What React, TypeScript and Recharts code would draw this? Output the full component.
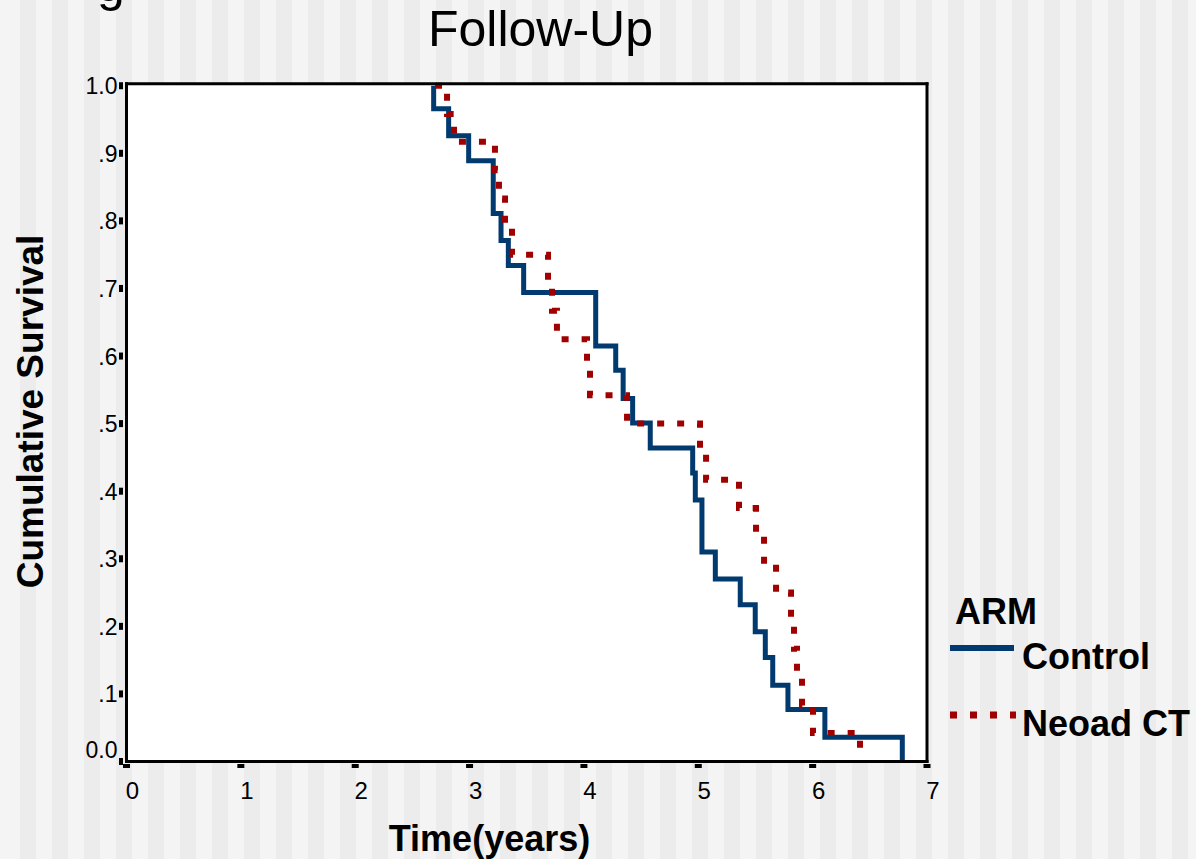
import { LineChart, Line, XAxis, YAxis, Legend, CartesianGrid } from "recharts";

// Kaplan-Meier steps (time in years, cumulative survival)
const controlTimes = [2.686, 2.686, 2.817, 2.992, 3.207, 3.275, 3.339, 3.473, 4.103, 4.278, 4.343, 4.426, 4.58, 4.951, 4.974, 5.032, 5.149, 5.367, 5.498, 5.586, 5.651, 5.784, 6.107, 6.784];
const controlSurvival = [1.0, 0.966, 0.926, 0.889, 0.811, 0.771, 0.734, 0.694, 0.615, 0.579, 0.537, 0.501, 0.464, 0.427, 0.387, 0.31, 0.27, 0.232, 0.192, 0.154, 0.113, 0.077, 0.036, 0];

const neoadTimes = [2.698, 2.803, 2.864, 3.222, 3.257, 3.31, 3.371, 3.686, 3.721, 3.764, 4.027, 4.053, 4.377, 5.015, 5.068, 5.356, 5.505, 5.575, 5.68, 5.811, 5.837, 5.863, 5.907, 6.003, 6.414];
const neoadSurvival = [1.0, 0.958, 0.917, 0.875, 0.833, 0.792, 0.75, 0.708, 0.667, 0.625, 0.583, 0.542, 0.5, 0.458, 0.417, 0.375, 0.333, 0.292, 0.25, 0.208, 0.167, 0.125, 0.083, 0.042, 0];

const xTicks = [0, 1, 2, 3, 4, 5, 6, 7];
const yTicks = [0, 0.1, 0.2, 0.3, 0.4, 0.5, 0.6, 0.7, 0.8, 0.9, 1.0];
const yTickLabels = ["0.0", ".1", ".2", ".3", ".4", ".5", ".6", ".7", ".8", ".9", "1.0"];

const controlData = controlTimes.map((t, i) => ({ t, s: controlSurvival[i] }));
const neoadData = neoadTimes.map((t, i) => ({ t, s: neoadSurvival[i] }));

const FONT = "'Liberation Sans', Arial, Helvetica, sans-serif";
const BLUE = "#003a6e";
const RED = "#a00000";
const PLOT_LEFT = 126.5;
const PLOT_BOTTOM = 761.5;

const seriesStyle: Record<string, { dash?: string; width: number }> = {
  Control: { width: 6 },
  "Neoad CT": { dash: "7 13", width: 7 },
};

const frameLine = { stroke: "#000", strokeWidth: 3, strokeLinecap: "square" as const };

function YTick(props: any) {
  const { y, payload } = props;
  const i = yTicks.indexOf(payload.value);
  const label = i >= 0 ? yTickLabels[i] : String(payload.value);
  const baseline = payload.value === 0 ? y - 3.5 : y + 8.5;
  return (
    <g>
      <rect x={PLOT_LEFT - 7.5} y={y - 3.5} width={4} height={7} fill="#000" />
      <text x={PLOT_LEFT - 9} y={baseline} textAnchor="end" fontSize={23} fontFamily={FONT} fill="#000">
        {label}
      </text>
    </g>
  );
}

function XTick(props: any) {
  const { x, payload } = props;
  return (
    <g>
      <rect x={x - 3.5} y={PLOT_BOTTOM + 2.5} width={7} height={4} fill="#000" />
      <text x={x + 6} y={799} textAnchor="middle" fontSize={24} fontFamily={FONT} fill="#000">
        {payload.value}
      </text>
    </g>
  );
}

function ArmLegend(props: any) {
  const payload = props.payload || [];
  return (
    <svg width={266} height={170} style={{ display: "block" }}>
      <text x={25} y={44} fontSize={36} fontWeight="bold" fontFamily={FONT} fill="#000">
        ARM
      </text>
      {payload.map((entry: any, i: number) => {
        const st = seriesStyle[entry.value] || { width: 5 };
        const lineY = i === 0 ? 68 : 135;
        return (
          <g key={entry.value}>
            <line x1={20} x2={i === 0 ? 84 : 86} y1={lineY} y2={lineY} stroke={entry.color} strokeWidth={st.width} strokeDasharray={st.dash} />
            <text x={92} y={lineY + 21} fontSize={36} fontWeight="bold" fontFamily={FONT} fill="#000">
              {entry.value}
            </text>
          </g>
        );
      })}
    </svg>
  );
}

export default function App() {
  return (
    <div
      style={{
        position: "absolute",
        left: 0,
        top: 0,
        width: 1196,
        height: 859,
        overflow: "hidden",
        background: "repeating-linear-gradient(90deg, #f4f4f4 0px, #f4f4f4 16px, #ececec 16px, #ececec 32px)",
        backgroundPosition: "4px 0",
        fontFamily: FONT,
      }}
    >
      <LineChart width={1196} height={859} margin={{ top: 82.7, right: 268, bottom: 37.5, left: 26.5 }}>
        <CartesianGrid horizontal={false} vertical={false} fill="#ffffff" />
        <XAxis
          dataKey="t"
          type="number"
          domain={[0, 7]}
          ticks={xTicks}
          height={60}
          axisLine={frameLine}
          tickLine={false}
          tick={<XTick />}
          interval={0}
          label={{
            value: "Time(years)",
            content: (p: any) => (
              <text x={489.5} y={851} textAnchor="middle" fontSize={36} fontWeight="bold" fontFamily={FONT} fill="#000">
                {p.value}
              </text>
            ),
          }}
        />
        <XAxis xAxisId="top" orientation="top" type="number" domain={[0, 7]} height={1} tick={false} tickLine={false} axisLine={frameLine} />
        <YAxis
          type="number"
          domain={[0, 1.003]}
          ticks={yTicks}
          width={100}
          axisLine={frameLine}
          tickLine={false}
          tick={<YTick />}
          interval={0}
          label={{
            value: "Cumulative Survival",
            content: (p: any) => (
              <text transform="translate(43, 411.5) rotate(-90)" textAnchor="middle" fontSize={37} fontWeight="bold" fontFamily={FONT} fill="#000">
                {p.value}
              </text>
            ),
          }}
        />
        <YAxis yAxisId="right" orientation="right" type="number" domain={[0, 1.003]} width={1} tick={false} tickLine={false} axisLine={frameLine} />
        <Line
          data={controlData}
          dataKey="s"
          name="Control"
          type="stepAfter"
          stroke={BLUE}
          strokeWidth={5}
          dot={false}
          activeDot={false}
          isAnimationActive={false}
        />
        <Line
          data={neoadData}
          dataKey="s"
          name="Neoad CT"
          type="stepAfter"
          stroke={RED}
          strokeWidth={6}
          strokeDasharray="7 13"
          dot={false}
          activeDot={false}
          isAnimationActive={false}
        />
        <Legend
          layout="vertical"
          align="center"
          verticalAlign="middle"
          content={<ArmLegend />}
          wrapperStyle={{ left: 930, top: 580, width: 266, height: 170 }}
        />
      </LineChart>
      <svg width={1196} height={859} style={{ position: "absolute", left: 0, top: 0, pointerEvents: "none" }}>
        <text x={97} y={0.5} fontSize={50} fontFamily={FONT} fill="#000">
          g
        </text>
        <text x={540.5} y={46} textAnchor="middle" fontSize={50} fontFamily={FONT} fill="#000">
          Follow-Up
        </text>
      </svg>
    </div>
  );
}
